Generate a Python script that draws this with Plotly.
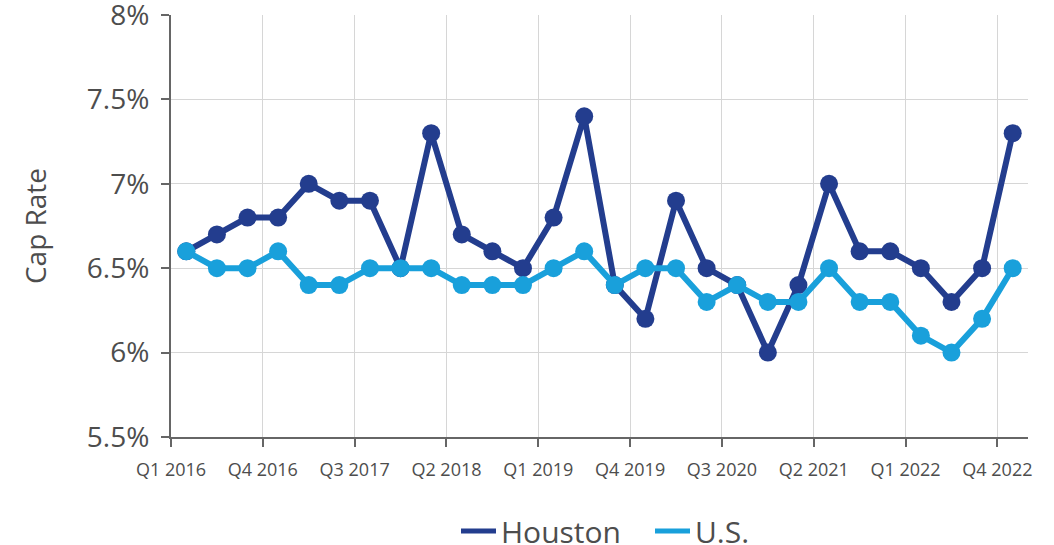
import plotly.graph_objects as go

quarters = [f"Q{q} {y}" for y in range(2016, 2023) for q in range(1, 5)]
houston = [6.6, 6.7, 6.8, 6.8, 7.0, 6.9, 6.9, 6.5, 7.3, 6.7, 6.6, 6.5, 6.8, 7.4,
           6.4, 6.2, 6.9, 6.5, 6.4, 6.0, 6.4, 7.0, 6.6, 6.6, 6.5, 6.3, 6.5, 7.3]
us = [6.6, 6.5, 6.5, 6.6, 6.4, 6.4, 6.5, 6.5, 6.5, 6.4, 6.4, 6.4, 6.5, 6.6,
      6.4, 6.5, 6.5, 6.3, 6.4, 6.3, 6.3, 6.5, 6.3, 6.3, 6.1, 6.0, 6.2, 6.5]
y_ticks = [5.5, 6.0, 6.5, 7.0, 7.5, 8.0]
y_labels = ["5.5%", "6%", "6.5%", "7%", "7.5%", "8%"]

HOU = "#233d8e"
USC = "#19a0db"
TXT = "#4d4d4d"

idx = list(range(len(quarters)))
tick_pos = [i - 0.5 for i in idx[::3]]
tick_lab = quarters[::3]

fig = go.Figure()
fig.add_trace(go.Scatter(x=idx, y=houston, mode="lines+markers", name="Houston",
                         line=dict(color=HOU, width=6), marker=dict(size=18, color=HOU),
                         showlegend=False, cliponaxis=False))
fig.add_trace(go.Scatter(x=idx, y=us, mode="lines+markers", name="U.S.",
                         line=dict(color=USC, width=6), marker=dict(size=18, color=USC),
                         showlegend=False, cliponaxis=False))
fig.add_trace(go.Scatter(x=[None], y=[None], mode="lines", name="Houston",
                         line=dict(color=HOU, width=5)))
fig.add_trace(go.Scatter(x=[None], y=[None], mode="lines", name="U.S.",
                         line=dict(color=USC, width=5)))

fig.update_layout(
    width=1054, height=545,
    margin=dict(l=171, r=26, t=15, b=108, autoexpand=False),
    paper_bgcolor="white", plot_bgcolor="white",
    font=dict(family="Open Sans", color=TXT),
    showlegend=True,
    legend=dict(orientation="h", x=(456 - 171) / 857, xanchor="left", y=-0.2227, yanchor="middle",
                font=dict(size=30, color=TXT), itemwidth=35, tracegroupgap=0,
                entrywidth=144, entrywidthmode="pixels"),
    xaxis=dict(range=[-0.5, 27.5], tickmode="array", tickvals=tick_pos, ticktext=tick_lab,
               showgrid=True, gridcolor="#d6d6d6", gridwidth=1,
               showline=True, linecolor="#666666", linewidth=2,
               ticks="outside", ticklen=8, tickwidth=2, tickcolor="#666666",
               tickfont=dict(size=18, color=TXT), zeroline=False,
               ticklabelstandoff=7),
    yaxis=dict(range=[5.5, 8.0001], tickmode="array", tickvals=y_ticks, ticktext=y_labels,
               showgrid=True, gridcolor="#d6d6d6", gridwidth=1,
               showline=True, linecolor="#666666", linewidth=2,
               ticks="outside", ticklen=8, tickwidth=2, tickcolor="#666666",
               tickfont=dict(size=28, color=TXT), zeroline=False,
               ticklabelstandoff=6, ticklabeloverflow="allow",
               title=dict(text="Cap Rate", font=dict(size=28, color=TXT), standoff=32)),
)

fig.write_html("out.html")
